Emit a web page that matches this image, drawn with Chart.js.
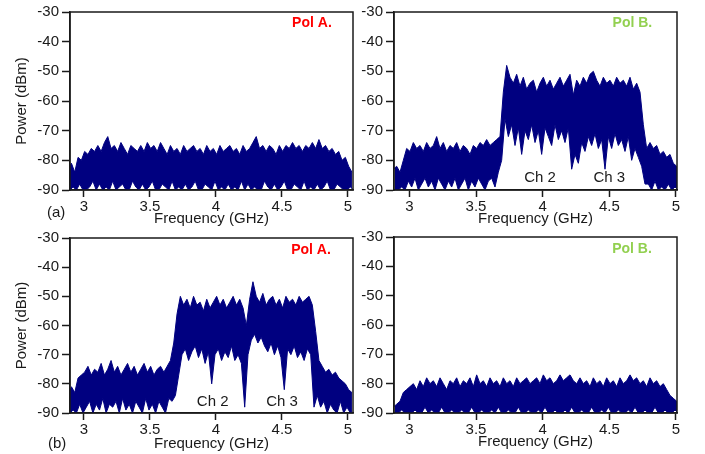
<!DOCTYPE html>
<html lang="en">
<head>
  <meta charset="UTF-8" />
  <title>Spectra | Pol A / Pol B</title>
  <script src="https://cdn.jsdelivr.net/npm/chart.js"></script>
  <style>
    body {
      margin: 0;
      background: #fff;
      font-family: 'Liberation Sans', Arial, sans-serif;
    }
    .figure {
      position: relative;
      width: 705px;
      height: 454px;
    }
    .figure canvas {
      position: absolute;
    }
    .tag {
      position: absolute;
      font-size: 15px;
      color: #1a1a1a;
    }
  </style>
</head>
<body>
  <div class="figure">
    <canvas id="panelA1" width="360" height="228" style="left:0;top:0"></canvas>
    <canvas id="panelA2" width="345" height="228" style="left:360px;top:0"></canvas>
    <canvas id="panelB1" width="360" height="228" style="left:0;top:226px"></canvas>
    <canvas id="panelB2" width="345" height="229" style="left:360px;top:225px"></canvas>
    <span class="tag" style="left:47px;top:203px">(a)</span>
    <span class="tag" style="left:48px;top:434px">(b)</span>
  </div>

  <script>
    // frequency grid (GHz): peak samples at start + i*step, floor samples half a step later
    const freqStart = 2.88;
    const freqStep = 0.025;

    const xTicks = [3, 3.5, 4, 4.5, 5];
    const yTicks = [-90, -80, -70, -60, -50, -40, -30];

    // (a) Pol A - upper / lower envelope of the noisy trace (dBm)
    const a1Peak = [
      -83, -81, -84, -79, -80, -77, -78, -76, -77, -75,
      -77, -74, -72, -76, -75, -77, -74, -76, -78, -75,
      -76, -77, -75, -77, -74, -76, -75, -77, -74, -76,
      -78, -75, -77, -76, -78, -75, -77, -76, -75, -77,
      -76, -78, -75, -77, -76, -78, -75, -77, -76, -75,
      -77, -76, -78, -75, -77, -76, -74, -72, -76, -75,
      -77, -75, -76, -78, -75, -77, -75, -76, -74, -76,
      -75, -77, -75, -76, -74, -76, -73, -76, -75, -77,
      -76, -78, -77, -80, -79, -82, -84
    ];
    const a1Floor = [
      -90, -89, -90, -88, -90, -90, -89, -87, -90, -88,
      -90, -89, -90, -87, -90, -89, -88, -90, -90, -87,
      -89, -90, -88, -90, -89, -87, -90, -90, -88, -89,
      -90, -87, -90, -89, -90, -88, -90, -89, -87, -90,
      -90, -88, -89, -90, -87, -90, -89, -90, -88, -90,
      -89, -90, -87, -90, -88, -90, -89, -90, -90, -87,
      -89, -90, -88, -90, -89, -87, -90, -90, -88, -89,
      -90, -87, -90, -89, -90, -88, -90, -89, -87, -90,
      -90, -88, -89, -90, -90, -89, -90
    ];

    // (a) Pol B
    const a2Peak = [
      -83, -82, -84, -80, -76, -77, -74, -76, -75, -77,
      -74, -76, -75, -72, -76, -74, -77, -75, -76, -74,
      -77, -75, -76, -78, -75, -76, -74, -75, -73, -75,
      -74, -73, -72, -57, -48, -52, -54, -51, -55, -52,
      -56, -54, -53, -57, -54, -52, -55, -53, -56, -54,
      -52, -55, -53, -51, -58, -53, -55, -52, -54, -51,
      -50, -53, -55, -52, -54, -53, -55, -52, -54, -53,
      -55, -52, -56, -54, -57, -68, -76, -74, -76, -75,
      -78, -77, -79, -78, -81, -82, -84
    ];
    const a2Floor = [
      -90, -90, -89, -90, -87, -89, -86, -90, -88, -86,
      -89, -87, -90, -86, -88, -90, -87, -89, -86, -90,
      -88, -86, -90, -87, -89, -86, -88, -90, -87, -86,
      -89, -84, -80, -66, -72, -68, -75, -69, -78, -70,
      -73, -68, -74, -70, -78, -69, -72, -75, -68, -73,
      -70, -74, -69, -83, -78, -81, -74, -77, -72, -75,
      -71, -76, -73, -83, -72, -76, -71, -75, -73, -77,
      -72, -80, -76, -79, -82, -88, -88, -90, -87, -90,
      -89, -90, -88, -90, -89, -90, -90
    ];

    // (b) Pol A
    const b1Peak = [
      -84, -81, -83, -78, -77, -76, -74, -77, -75, -76,
      -73, -77, -75, -72, -76, -74, -77, -75, -73, -76,
      -74, -77, -75, -73, -76, -74, -77, -75, -74, -76,
      -74, -72, -66, -56, -50, -53, -51, -54, -50, -53,
      -52, -55, -51, -54, -52, -50, -53, -51, -54, -52,
      -50, -53, -51, -54, -60, -51, -45, -50, -52, -49,
      -53, -51, -50, -53, -51, -54, -50, -52, -51, -53,
      -50, -52, -51, -50, -53, -62, -72, -74, -76, -75,
      -77, -76, -78, -79, -80, -82, -83
    ];
    const b1Floor = [
      -90, -89, -90, -87, -90, -88, -86, -90, -87, -89,
      -85, -90, -87, -88, -86, -90, -85, -89, -87, -90,
      -86, -88, -90, -85, -89, -87, -90, -86, -88, -90,
      -85, -86, -84, -77, -70, -68, -72, -69, -67, -71,
      -68, -73, -69, -80, -70, -68, -72, -69, -71, -67,
      -72, -70, -73, -88, -70, -65, -63, -66, -64, -67,
      -69, -66, -70, -67, -71, -82, -68, -70, -67, -71,
      -69, -72, -68, -70, -88, -84, -88, -86, -90, -87,
      -89, -90, -86, -90, -88, -90, -90
    ];

    // (b) Pol B
    const b2Peak = [
      -88, -87, -86, -83, -82, -81, -80, -82, -79, -81,
      -78, -80, -79, -81, -78, -80, -82, -79, -80, -78,
      -81, -79, -80, -78, -81, -77, -80, -79, -81, -78,
      -80, -79, -81, -78, -80, -79, -81, -78, -80, -79,
      -78, -80, -79, -78, -80, -77, -79, -78, -80, -79,
      -77, -79, -78, -77, -79, -80, -78, -80, -79, -81,
      -78, -80, -79, -81, -78, -80, -79, -81, -78, -80,
      -79, -77, -79, -78, -80, -79, -81, -78, -80, -79,
      -81, -80, -82, -84, -85, -86, -86
    ];
    const b2Floor = [
      -90, -90, -89, -90, -90, -90, -89, -90, -90, -88,
      -90, -89, -90, -90, -88, -90, -90, -89, -90, -90,
      -89, -90, -90, -88, -90, -90, -89, -90, -90, -89,
      -90, -88, -90, -90, -89, -90, -90, -88, -90, -90,
      -89, -90, -90, -89, -90, -88, -90, -90, -89, -90,
      -90, -89, -90, -88, -90, -90, -89, -90, -90, -88,
      -90, -90, -89, -90, -88, -90, -90, -89, -90, -90,
      -89, -90, -88, -90, -90, -89, -90, -90, -88, -90,
      -90, -89, -90, -90, -89, -90, -90
    ];

    const NAVY = '#000080';
    const INK = '#1a1a1a';

    Chart.defaults.font.family = "'Liberation Sans', Arial, sans-serif";
    Chart.defaults.font.size = 15;
    Chart.defaults.color = INK;

    function envelope(values, offset) {
      return values.map((v, i) => ({ x: freqStart + i * freqStep + offset, y: v }));
    }

    // box around the plot + text notes placed in data coordinates
    const panelDecor = {
      id: 'panelDecor',
      afterDatasetsDraw(chart, args, opts) {
        const { ctx, chartArea: a, scales } = chart;
        ctx.save();
        ctx.strokeStyle = INK;
        ctx.lineWidth = 1.5;
        ctx.strokeRect(a.left, a.top, a.right - a.left, a.bottom - a.top);
        ctx.textAlign = 'center';
        ctx.textBaseline = 'middle';
        (opts.notes || []).forEach(n => {
          ctx.font = (n.bold ? 'bold 14px ' : '15px ') + "'Liberation Sans', Arial, sans-serif";
          ctx.fillStyle = n.color || INK;
          ctx.fillText(n.text, scales.x.getPixelForValue(n.x), scales.y.getPixelForValue(n.y));
        });
        ctx.restore();
      }
    };

    function makePanel(id, peaks, floors, cfg) {
      new Chart(document.getElementById(id), {
        type: 'line',
        data: {
          datasets: [{
            // upper envelope, filled down to the lower one
            data: envelope(peaks, 0),
            borderColor: NAVY,
            backgroundColor: NAVY,
            borderWidth: 1,
            pointRadius: 0,
            tension: 0,
            fill: '+1'
          }, {
            data: envelope(floors, freqStep / 2),
            borderColor: NAVY,
            borderWidth: 1,
            pointRadius: 0,
            tension: 0,
            fill: false
          }]
        },
        options: {
          responsive: false,
          animation: false,
          layout: { padding: cfg.pad },
          plugins: {
            legend: { display: false },
            tooltip: { enabled: false },
            panelDecor: { notes: cfg.notes }
          },
          scales: {
            x: {
              type: 'linear',
              min: cfg.xMin,
              max: cfg.xMax,
              afterBuildTicks: s => { s.ticks = xTicks.map(v => ({ value: v })); },
              afterFit: s => { s.height = cfg.xAxisH; },
              grid: { drawOnChartArea: false, tickLength: 7, tickColor: INK, tickWidth: 1.5 },
              border: { color: INK, width: 1.5 },
              ticks: { padding: 1, maxRotation: 0, autoSkip: false, callback: v => String(v) },
              title: { display: true, text: 'Frequency (GHz)', padding: { top: 0, bottom: cfg.titlePadB } }
            },
            y: {
              min: -90,
              max: -30,
              afterBuildTicks: s => { s.ticks = yTicks.map(v => ({ value: v })); },
              afterFit: s => { s.width = cfg.yAxisW; },
              grid: { drawOnChartArea: false, tickLength: 8, tickColor: INK, tickWidth: 1.5 },
              border: { color: INK, width: 1.5 },
              ticks: { padding: 3 },
              title: { display: cfg.yTitle, text: 'Power (dBm)', padding: { top: 13, bottom: 0 } }
            }
          }
        },
        plugins: [panelDecor]
      });
    }

    const red = '#ff0000';
    const green = '#92d050';

    makePanel('panelA1', a1Peak, a1Floor, {
      pad: { left: 0, top: 12, right: 7, bottom: 0 },
      xMin: 2.894, xMax: 5.038, xAxisH: 38, yAxisW: 70, titlePadB: 0, yTitle: true,
      notes: [{ text: 'Pol A.', x: 4.727, y: -33.6, color: red, bold: true }]
    });
    makePanel('panelA2', a2Peak, a2Floor, {
      pad: { left: 0, top: 12, right: 28, bottom: 0 },
      xMin: 2.885, xMax: 5.0075, xAxisH: 38, yAxisW: 34, titlePadB: 0, yTitle: false,
      notes: [
        { text: 'Pol B.', x: 4.673, y: -33.6, color: green, bold: true },
        { text: 'Ch 2', x: 3.98, y: -85.8 },
        { text: 'Ch 3', x: 4.50, y: -85.8 }
      ]
    });
    makePanel('panelB1', b1Peak, b1Floor, {
      pad: { left: 0, top: 9, right: 7, bottom: 0 },
      xMin: 2.894, xMax: 5.038, xAxisH: 41, yAxisW: 70, titlePadB: 1, yTitle: true,
      notes: [
        { text: 'Pol A.', x: 4.72, y: -34.1, color: red, bold: true },
        { text: 'Ch 2', x: 3.975, y: -86.3 },
        { text: 'Ch 3', x: 4.50, y: -86.3 }
      ]
    });
    makePanel('panelB2', b2Peak, b2Floor, {
      pad: { left: 0, top: 9, right: 28, bottom: 0 },
      xMin: 2.885, xMax: 5.0075, xAxisH: 41, yAxisW: 34, titlePadB: 3, yTitle: false,
      notes: [{ text: 'Pol B.', x: 4.67, y: -34.3, color: green, bold: true }]
    });
  </script>
</body>
</html>
